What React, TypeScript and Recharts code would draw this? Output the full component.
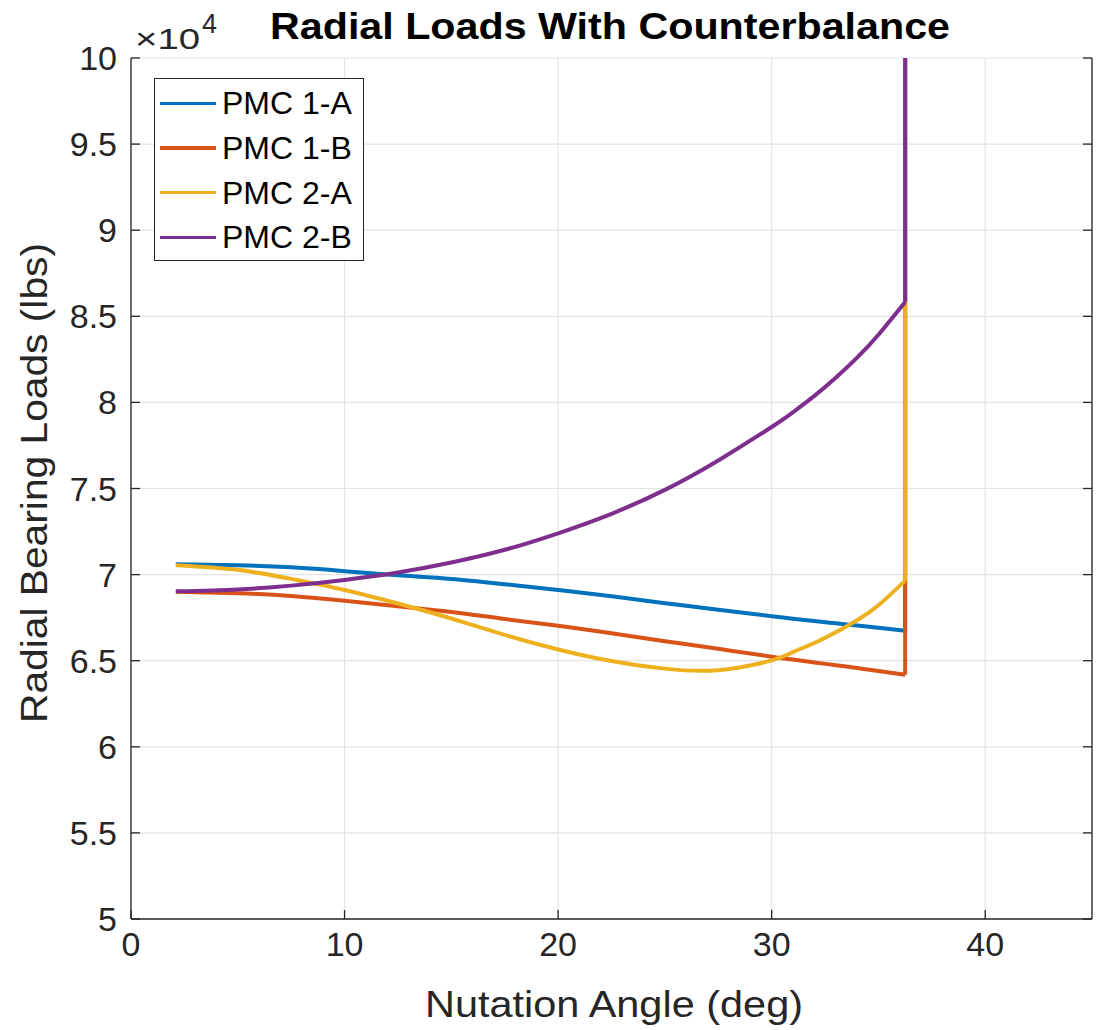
import React from 'react'
import { LineChart, Line, XAxis, YAxis, CartesianGrid, Legend } from 'recharts'

// nutation angle (deg)
const angles = [2.1, 5, 7.5, 10, 12.5, 15, 17.5, 20, 22.5, 25, 27.5, 30, 31, 32, 33, 34, 35, 36.25]
// radial bearing loads (lbs)
const pmc1A = [70600, 70540, 70420, 70200, 69960, 69750, 69440, 69110, 68740, 68340, 67960, 67580, 67440, 67310, 67170, 67040, 66910, 66740]
const pmc1B = [69000, 68920, 68760, 68480, 68160, 67830, 67420, 67030, 66590, 66130, 65690, 65230, 65070, 64900, 64740, 64570, 64400, 64190]
const pmc2A = [70550, 70280, 69750, 69110, 68320, 67450, 66500, 65650, 64980, 64540, 64450, 65020, 65500, 66030, 66650, 67350, 68220, 69650]
const pmc2B = [69030, 69140, 69360, 69690, 70120, 70700, 71440, 72400, 73530, 74920, 76630, 78570, 79430, 80380, 81430, 82600, 83930, 85830]
// at the last angle every load shoots off the top of the scale
const offScaleLoad = 200000

const xTicks = [0, 10, 20, 30, 40]
const yTicks = [50000, 55000, 60000, 65000, 70000, 75000, 80000, 85000, 90000, 95000, 100000]

const series = [
  { key: 'pmc1A', name: 'PMC 1-A', color: '#0072BD', values: pmc1A },
  { key: 'pmc1B', name: 'PMC 1-B', color: '#D95319', values: pmc1B },
  { key: 'pmc2A', name: 'PMC 2-A', color: '#EDB120', values: pmc2A },
  { key: 'pmc2B', name: 'PMC 2-B', color: '#7E2F8E', values: pmc2B },
]

const last = angles.length - 1
const data: any[] = angles.map((angle, i) => {
  const row: any = { angle }
  series.forEach((s) => {
    row[s.key] = s.values[i]
    if (i === last) row[s.key + 'Jump'] = s.values[i]
  })
  return row
})
const jumpRow: any = { angle: angles[last] }
series.forEach((s) => {
  jumpRow[s.key + 'Jump'] = offScaleLoad
})
data.push(jumpRow)

const FONT = '"Liberation Sans", Arial, Helvetica, sans-serif'
const AXIS = '#262626'
const tickStyle = { fill: AXIS, fontSize: 34, fontFamily: FONT }

const renderLegend = ({ payload }: any) => (
  <div
    style={{
      width: 210,
      height: 183,
      boxSizing: 'border-box',
      border: '1px solid #262626',
      background: '#fff',
      padding: '2px 0 0 5px',
      fontFamily: FONT,
      fontSize: 32,
      color: '#000',
    }}
  >
    {(payload || [])
      .filter((entry: any) => entry.type !== 'none')
      .map((entry: any) => (
        <div key={entry.value} style={{ display: 'flex', alignItems: 'center', height: 44.7 }}>
          <span style={{ display: 'inline-block', width: 56, height: 3.5, background: entry.color, marginRight: 6 }} />
          <span style={{ lineHeight: '32px' }}>{entry.value}</span>
        </div>
      ))}
  </div>
)

export default function App() {
  return (
    <div style={{ position: 'absolute', left: 0, top: 0, width: 1101, height: 1030, background: '#fff' }}>
      <LineChart width={1101} height={1030} data={data} margin={{ top: 58, right: 0, bottom: 0, left: 0 }}>
        <CartesianGrid stroke="#e3e3e3" strokeWidth={1.2} />
        <XAxis
          dataKey="angle"
          type="number"
          domain={[0, 45]}
          ticks={xTicks}
          height={111}
          tickSize={-9}
          tickMargin={22}
          tick={tickStyle}
          stroke={AXIS}
          strokeWidth={1.3}
        />
        <YAxis
          domain={[50000, 100000]}
          ticks={yTicks}
          allowDataOverflow
          width={131}
          tickSize={-9}
          tickMargin={23}
          tick={tickStyle}
          tickFormatter={(v: number) => String(v / 10000)}
          stroke={AXIS}
          strokeWidth={1.3}
        />
        <YAxis
          yAxisId="r"
          orientation="right"
          domain={[50000, 100000]}
          ticks={yTicks}
          allowDataOverflow
          width={9}
          tickSize={-9}
          tickMargin={0}
          tickFormatter={() => ''}
          stroke={AXIS}
          strokeWidth={1.3}
        />
        <Legend
          layout="vertical"
          align="center"
          verticalAlign="middle"
          content={renderLegend}
          wrapperStyle={{ left: 154, top: 78, width: 210, height: 183 }}
        />
        {series.map((s) => (
          <React.Fragment key={s.key}>
            <Line
              type="natural"
              dataKey={s.key}
              name={s.name}
              stroke={s.color}
              strokeWidth={4}
              strokeLinejoin="round"
              dot={false}
              activeDot={false}
              isAnimationActive={false}
            />
            <Line
              type="linear"
              dataKey={s.key + 'Jump'}
              name={s.name + ' jump'}
              legendType="none"
              stroke={s.color}
              strokeWidth={4}
              dot={false}
              activeDot={false}
              isAnimationActive={false}
            />
          </React.Fragment>
        ))}
      </LineChart>
      <svg
        width={1101}
        height={1030}
        style={{ position: 'absolute', left: 0, top: 0, pointerEvents: 'none' }}
        fontFamily={FONT}
      >
        <text x={610} y={39} textAnchor="middle" fontSize={36} fontWeight="bold" fill="#000" textLength={680} lengthAdjust="spacingAndGlyphs">
          Radial Loads With Counterbalance
        </text>
        <text x={135} y={49} fontSize={30} fill={AXIS} textLength={65} lengthAdjust="spacingAndGlyphs">
          ×10
        </text>
        <text x={202} y={33} fontSize={27} fill={AXIS}>
          4
        </text>
        <text x={614} y={1017} textAnchor="middle" fontSize={37} fill={AXIS} textLength={378} lengthAdjust="spacingAndGlyphs">
          Nutation Angle (deg)
        </text>
        <text
          x={47}
          y={483}
          transform="rotate(-90 47 483)"
          textAnchor="middle"
          fontSize={37}
          fill={AXIS}
          textLength={480}
          lengthAdjust="spacingAndGlyphs"
        >
          Radial Bearing Loads (lbs)
        </text>
      </svg>
    </div>
  )
}
